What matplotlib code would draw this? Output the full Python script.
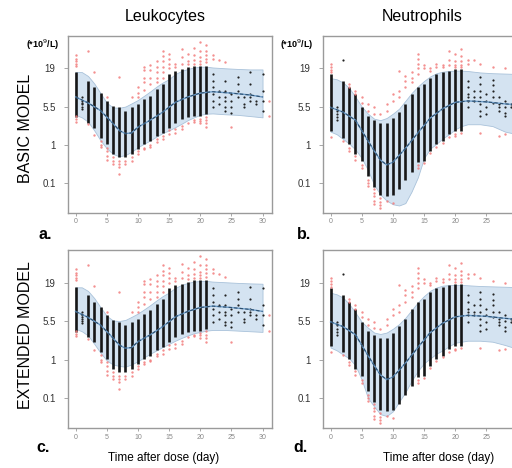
import numpy as np
import matplotlib
matplotlib.use('Agg')
from matplotlib import pyplot as plt
from matplotlib.ticker import NullLocator

plt.rcParams['font.family'] = ['Liberation Sans', 'DejaVu Sans']

# y axis of the original: ticks 0.1 / 1 / 5.5 / 19 are equally spaced
ytick_vals = [0.1, 1, 5.5, 19]
ytick_labels = ['0.1', '1', '5.5', '19']
xtick_left = [0, 5, 10, 15, 20, 25, 30]
xtick_right = [0, 5, 10, 15, 20, 25]  # 30 falls past the cropped right edge

# prediction interval (x10^9/L)
band_days = [0, 1, 2, 3, 4, 5, 6, 7, 8, 9, 10, 11, 12, 13, 14, 15, 16, 17, 18, 19, 20, 21, 22, 24, 26, 28, 30]
leuk_basic_hi = [16.8, 16.8, 14.8, 11.6, 8.5, 6.2, 5.3, 5.2, 5.5, 6.1, 6.8, 7.8, 9.0, 10.5, 12.0, 13.4, 15.8, 17.4, 18.6, 19.5, 20, 20, 19.5, 19, 18.6, 18.3, 18.3]
leuk_basic_lo = [3.8, 3.4, 2.8, 1.9, 1.22, 0.81, 0.58, 0.5, 0.54, 0.66, 0.87, 1.05, 1.22, 1.45, 1.7, 1.9, 2.2, 2.55, 3.0, 3.4, 3.8, 4.0, 4.05, 3.9, 3.8, 3.6, 3.4]
leuk_ext_hi = [16.3, 16.3, 14.5, 11.5, 8.6, 6.5, 5.6, 5.5, 5.7, 6.3, 7.0, 8.0, 9.2, 10.7, 12.3, 13.8, 16.0, 17.6, 18.8, 19.6, 20, 20, 19.6, 19.2, 18.8, 18.5, 18.3]
leuk_ext_lo = [3.9, 3.5, 2.9, 2.0, 1.35, 0.95, 0.74, 0.68, 0.65, 0.75, 0.9, 1.1, 1.3, 1.5, 1.75, 2.0, 2.3, 2.6, 2.9, 3.2, 3.4, 3.6, 3.7, 3.7, 3.6, 3.5, 3.4]
neut_basic_hi = [13.8, 13.3, 12.0, 10.0, 7.5, 5.5, 4.0, 3.2, 3.0, 3.3, 4.0, 5.0, 6.6, 8.5, 10.5, 12.6, 14.6, 16.2, 17.0, 17.4, 17.6, 17.6, 17.4, 16.6, 16.2, 16.0, 15.8]
neut_basic_lo = [1.8, 1.6, 1.3, 1.05, 0.75, 0.45, 0.22, 0.09, 0.05, 0.035, 0.028, 0.026, 0.03, 0.06, 0.14, 0.45, 0.8, 1.05, 1.33, 1.6, 2.0, 2.3, 2.5, 2.5, 2.3, 1.8, 1.6]
neut_ext_hi = [13.7, 13.0, 11.7, 9.5, 7.2, 5.3, 4.1, 3.3, 3.1, 3.3, 3.9, 4.8, 6.1, 7.8, 10.0, 12.3, 14.6, 16.2, 17.2, 17.5, 17.6, 17.6, 17.4, 17.0, 16.8, 16.6, 16.4]
neut_ext_lo = [1.7, 1.5, 1.25, 1.05, 0.7, 0.3, 0.1, 0.06, 0.038, 0.034, 0.045, 0.08, 0.14, 0.28, 0.5, 0.8, 1.05, 1.3, 1.5, 1.8, 2.1, 2.2, 2.3, 2.3, 2.2, 1.9, 1.6]

# median
med_days = [0, 2, 4, 6, 7, 8, 9, 10, 12, 14, 16, 18, 20, 22, 25, 28, 30]
leuk_med = [7.5, 6.2, 4.6, 2.6, 1.9, 1.65, 1.7, 2.2, 3.0, 4.3, 6.3, 7.5, 8.5, 8.9, 8.5, 8.0, 7.5]
neut_med = [5.3, 4.3, 3.0, 1.2, 0.7, 0.4, 0.3, 0.35, 0.8, 1.7, 3.3, 5.0, 6.3, 6.6, 6.4, 6.0, 5.8]

# observed: dense columns (range of black points)
col_days = [0, 2, 3, 4, 5, 6, 7, 8, 9, 10, 11, 12, 13, 14, 15, 16, 17, 18, 19, 20, 21]
leuk_col_hi = [16.6, 12.6, 10.2, 8.6, 6.6, 5.6, 5.3, 4.6, 5.3, 5.9, 7.0, 7.8, 9.6, 11.3, 15.8, 17.4, 18.4, 19.5, 20.6, 20.6, 20.6]
leuk_col_lo = [3.4, 2.7, 2.15, 1.38, 1.03, 0.58, 0.47, 0.47, 0.58, 0.77, 1.03, 1.19, 1.5, 1.73, 2.15, 2.7, 3.1, 3.4, 3.6, 3.6, 3.9]
neut_col_hi = [15.8, 12.6, 10.2, 8.2, 5.3, 3.6, 3.0, 2.6, 2.6, 3.3, 4.4, 5.9, 8.2, 10.2, 11.3, 14.0, 15.8, 16.6, 17.4, 18.4, 18.4]
neut_col_lo = [1.85, 1.38, 1.03, 0.58, 0.38, 0.15, 0.08, 0.05, 0.045, 0.05, 0.07, 0.12, 0.2, 0.35, 0.38, 0.69, 1.03, 1.19, 1.6, 1.85, 1.85]

# observed: sparse black points
leuk_sparse = {
    1: [7.4, 6.6, 6.2, 5.9, 5.5, 5.0],
    22: [15.8, 12.6, 10.2, 8.2, 6.6, 5.3],
    23: [9.1, 7.4, 5.9],
    24: [12.6, 9.1, 7.4, 6.6, 5.3, 4.6],
    25: [8.2, 6.6, 5.3, 4.2],
    26: [14.1, 11.3, 9.1, 7.4],
    27: [7.4, 5.9, 5.3],
    28: [16.6, 11.3, 8.2, 7.4, 6.6],
    29: [6.6, 5.9],
    30: [15.8, 9.1, 6.6, 4.6],
}
neut_sparse = {
    1: [5.3, 4.6, 3.9, 3.4, 3.0],
    2: [25],
    22: [12.6, 10.2, 8.2, 7.4, 6.6, 5.3],
    23: [9.1, 7.4, 6.6],
    24: [14.1, 11.3, 9.1, 7.4, 5.9, 4.6, 3.6],
    25: [8.2, 6.6, 5.3, 3.9],
    26: [13.0, 11.0, 9.1, 7.4, 6.2],
    27: [7.4, 5.9, 5.3, 4.6],
    28: [6.6, 5.5, 4.2, 3.6],
    29: [5.9, 5.3],
    30: [8.2, 4.6],
}

# observed points outside the interval (red)
leuk_red = {
    0: [29, 26, 24, 22, 20.5, 3.6, 3.1, 2.8],
    2: [33, 2.5],
    3: [16.8, 1.55],
    4: [1.2, 1.0, 0.87],
    5: [7.4, 0.85, 0.69, 0.5, 0.4],
    6: [0.47, 0.38, 0.32],
    7: [14.1, 0.38, 0.32, 0.26, 0.17],
    8: [0.38, 0.32],
    9: [7.4, 0.47, 0.38],
    10: [10.2, 8.6, 7.4, 0.69, 0.58],
    11: [20, 18, 14, 12, 9.5, 0.85, 0.77],
    12: [21, 18, 14, 11.3, 1.0, 0.9],
    13: [24, 20, 17, 14, 12, 1.3, 1.15],
    14: [33, 28, 24, 20, 17, 14, 1.5, 1.3],
    15: [30, 26, 22, 19, 1.9, 1.6],
    16: [22, 20, 2.0, 1.7],
    17: [35, 27, 22, 2.3, 2.0],
    18: [30, 24, 21.5, 2.7],
    19: [37, 29, 25, 22, 3.0, 2.8],
    20: [45, 33, 27, 24, 22, 3.2, 2.9, 2.6],
    21: [40, 33, 29, 26, 23, 3.5, 3.0, 2.6, 2.2],
    22: [29, 26],
    23: [25],
    24: [23],
    25: [2.2],
    31: [6.6, 3.6],
}
neut_red = {
    0: [22, 20, 18, 16.6, 1.4],
    2: [1.2],
    3: [11.3, 10.2, 0.85, 0.7],
    4: [9.1, 8.2, 0.5, 0.4],
    5: [7.4, 6.2, 0.3, 0.25],
    6: [5.9, 4.6, 0.12, 0.1, 0.085],
    7: [5.3, 4.0, 0.07, 0.055, 0.045, 0.035, 0.028],
    8: [3.9, 0.04, 0.033, 0.026, 0.022],
    9: [5.9, 4.6, 0.035],
    10: [8.2, 6.6, 0.03],
    11: [17.4, 9.1, 7.4],
    12: [15, 12.6, 10.2],
    13: [17, 14, 12],
    14: [30, 26, 22, 19, 16, 0.3, 0.25],
    15: [21, 19, 0.33],
    16: [19, 17.5, 0.6],
    17: [22, 20, 0.9],
    18: [21, 19.5, 1.1],
    19: [33, 25, 21, 1.4],
    20: [30, 24, 21, 19.5, 1.6, 1.5],
    21: [36, 28, 24, 21, 19.5, 1.7],
    22: [25, 22],
    23: [25],
    24: [22, 1.7],
    26: [20],
    27: [1.5],
    28: [19, 1.6],
}

# piecewise log scale so that the four ticks sit at equal spacing
KNOT_LOG = np.log10(ytick_vals)
KNOT_POS = np.arange(len(ytick_vals), dtype=float)


def fwd(v):
    lv = np.log10(np.clip(np.asarray(v, dtype=float), 1e-9, None))
    p = np.interp(lv, KNOT_LOG, KNOT_POS)
    p = np.where(lv < KNOT_LOG[0], (lv - KNOT_LOG[0]) / (KNOT_LOG[1] - KNOT_LOG[0]), p)
    p = np.where(lv > KNOT_LOG[-1], KNOT_POS[-1] + (lv - KNOT_LOG[-1]) / (KNOT_LOG[-1] - KNOT_LOG[-2]), p)
    return p


def inv(p):
    p = np.asarray(p, dtype=float)
    lv = np.interp(p, KNOT_POS, KNOT_LOG)
    lv = np.where(p < 0, KNOT_LOG[0] + p * (KNOT_LOG[1] - KNOT_LOG[0]), lv)
    lv = np.where(p > KNOT_POS[-1], KNOT_LOG[-1] + (p - KNOT_POS[-1]) * (KNOT_LOG[-1] - KNOT_LOG[-2]), lv)
    return 10 ** lv


def draw_panel(ax, lo, hi, med, col_hi, col_lo, sparse, red, xticks):
    ax.set_yscale('function', functions=(fwd, inv))
    ax.fill_between(band_days, lo, hi, color='#d4e3f1', edgecolor='#a9c2da', lw=0.6, zorder=1)
    ax.vlines(col_days, col_lo, col_hi, color='#161616', lw=1.9, zorder=3)
    for d, vals in sparse.items():
        ax.scatter([d] * len(vals), vals, s=2.5, color='#222222', lw=0, zorder=3)
    for d, vals in red.items():
        ax.scatter([d] * len(vals), vals, s=3, color='#f27d7d', lw=0, alpha=0.85, zorder=4)
    ax.plot(med_days, med, color='#6d9cc8', lw=1.0, zorder=5)
    ax.plot(med_days, med, color='#2d4f6e', lw=0.8, ls=(0, (3, 2)), zorder=6)

    ax.set_xlim(-1.2, 31.5)
    ax.set_ylim(0.0166, 54)
    ax.set_yticks(ytick_vals, ytick_labels)
    ax.set_xticks(xticks)
    ax.yaxis.set_minor_locator(NullLocator())
    ax.xaxis.set_minor_locator(NullLocator())
    for sp in ax.spines.values():
        sp.set_color('#9a9a9a')
        sp.set_linewidth(1.0)
    ax.tick_params(axis='y', length=3, width=0.6, color='#999999', labelcolor='#333333', labelsize=7, pad=6)
    ax.tick_params(axis='x', length=2.5, width=0.6, color='#999999', labelcolor='#888888', labelsize=5, pad=1.5)


fig = plt.figure(figsize=(5.12, 4.68), dpi=100)
ax_a = fig.add_axes([0.133, 0.545, 0.398, 0.378])
ax_b = fig.add_axes([0.631, 0.545, 0.398, 0.378])
ax_c = fig.add_axes([0.133, 0.0855, 0.398, 0.380])
ax_d = fig.add_axes([0.631, 0.0855, 0.398, 0.380])

draw_panel(ax_a, leuk_basic_lo, leuk_basic_hi, leuk_med, leuk_col_hi, leuk_col_lo, leuk_sparse, leuk_red, xtick_left)
draw_panel(ax_b, neut_basic_lo, neut_basic_hi, neut_med, neut_col_hi, neut_col_lo, neut_sparse, neut_red, xtick_right)
draw_panel(ax_c, leuk_ext_lo, leuk_ext_hi, leuk_med, leuk_col_hi, leuk_col_lo, leuk_sparse, leuk_red, xtick_left)
draw_panel(ax_d, neut_ext_lo, neut_ext_hi, neut_med, neut_col_hi, neut_col_lo, neut_sparse, neut_red, xtick_right)

fig.text(0.322, 0.964, 'Leukocytes', ha='center', va='center', fontsize=11.5)
fig.text(0.824, 0.964, 'Neutrophils', ha='center', va='center', fontsize=11.5)
fig.text(0.049, 0.726, 'BASIC MODEL', rotation=90, ha='center', va='center', fontsize=11.5)
fig.text(0.049, 0.284, 'EXTENDED MODEL', rotation=90, ha='center', va='center', fontsize=11.5)
fig.text(0.084, 0.904, r'(*10$^{9}$/L)', ha='center', va='center', fontsize=6.5, fontweight='bold')
fig.text(0.580, 0.904, r'(*10$^{9}$/L)', ha='center', va='center', fontsize=6.5, fontweight='bold')
for x, y, s in [(0.088, 0.498, 'a.'), (0.594, 0.498, 'b.'), (0.084, 0.043, 'c.'), (0.586, 0.043, 'd.')]:
    fig.text(x, y, s, ha='center', va='center', fontsize=11.5, fontweight='bold')
fig.text(0.320, 0.021, 'Time after dose (day)', ha='center', va='center', fontsize=8.5)
fig.text(0.856, 0.021, 'Time after dose (day)', ha='center', va='center', fontsize=8.5)

fig.savefig('out.png', dpi=100)
